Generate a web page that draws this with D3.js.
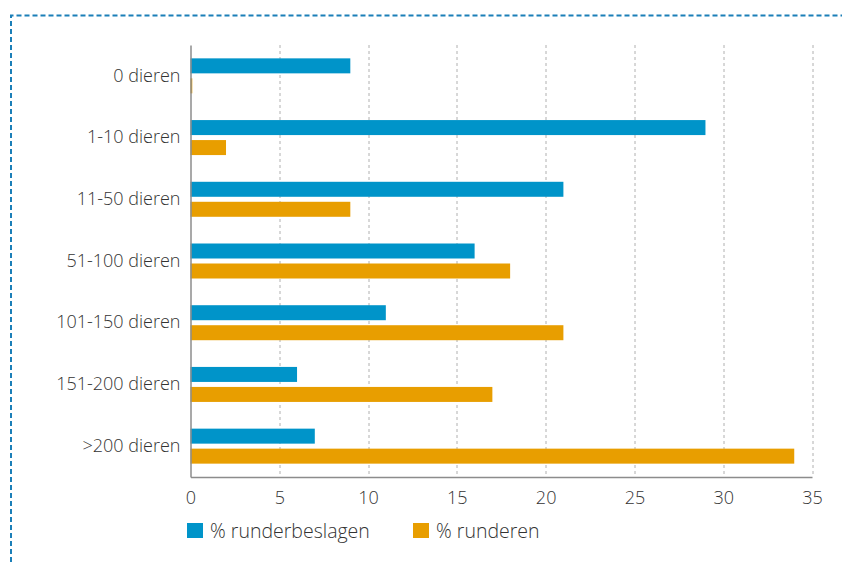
<!DOCTYPE html>
<html>
<head>
<meta charset="utf-8">
<script src="https://cdn.jsdelivr.net/npm/d3@7"></script>
<style>
  body { margin: 0; background: #fff; }
  svg { font-family: "Open Sans", sans-serif; }
</style>
</head>
<body>
<div class="canvas"></div>
<script>
// data
const categories = ['0 dieren', '1-10 dieren', '11-50 dieren', '51-100 dieren', '101-150 dieren', '151-200 dieren', '>200 dieren'];
const beslagen = [9, 29, 21, 16, 11, 6, 7];
const runderen = [0.1, 2, 9, 18, 21, 17, 34];
const seriesNames = ['% runderbeslagen', '% runderen'];
const colors = ['#0094c9', '#e89e00'];
const xTicks = [0, 5, 10, 15, 20, 25, 30, 35];

const width = 842, height = 562;
const margin = {top: 45, right: 30, bottom: 85, left: 190.5};
const graphWidth = 812 - margin.left;
const graphHeight = 477 - margin.top;
const fontSize = 18;
const textColor = '#333';

const svg = d3.select('.canvas').append('svg')
    .attr('width', width)
    .attr('height', height);

// dashed frame
svg.append('path')
    .attr('d', 'M11,562 L11,15.5 L842,15.5')
    .attr('fill', 'none')
    .attr('stroke', '#1b7fb8')
    .attr('stroke-width', 2)
    .attr('stroke-dasharray', '5,3');

const graph = svg.append('g')
    .attr('transform', `translate(${margin.left}, ${margin.top})`);

// scales
const x = d3.scaleLinear().domain([0, 35]).range([0, graphWidth]);
const y = d3.scaleBand().domain(categories).range([0, graphHeight]);

// gridlines
graph.append('g').selectAll('line')
    .data(xTicks.slice(1))
    .join('line')
    .attr('x1', d => Math.round(x(d)) + 0.5)
    .attr('x2', d => Math.round(x(d)) + 0.5)
    .attr('y1', 0)
    .attr('y2', graphHeight)
    .attr('stroke', '#b0b0b0')
    .attr('stroke-dasharray', '3,3');

// bars
const barH = 15, gap = 5;
const rows = graph.append('g').selectAll('g')
    .data(categories)
    .join('g')
    .attr('transform', d => `translate(0, ${y(d) + y.bandwidth() / 2 - barH - gap / 2})`);

rows.append('rect')
    .attr('x', 0)
    .attr('y', 0)
    .attr('height', barH)
    .attr('width', (d, i) => x(beslagen[i]))
    .attr('fill', colors[0]);

rows.append('rect')
    .attr('x', 0)
    .attr('y', barH + gap)
    .attr('height', barH)
    .attr('width', (d, i) => x(runderen[i]))
    .attr('fill', colors[1]);

// axes
const xAxis = d3.axisBottom(x).tickValues(xTicks).tickSize(0).tickPadding(14);
const xAxisGroup = graph.append('g')
    .attr('transform', `translate(0, ${graphHeight})`)
    .call(xAxis)
    .attr('font-size', fontSize)
    .attr('font-family', '"Open Sans", sans-serif')
    .attr('font-weight', 300);
xAxisGroup.select('.domain').attr('stroke', '#8c8c8c').attr('stroke-width', 1.5);
xAxisGroup.selectAll('text').attr('fill', textColor);

const yAxis = d3.axisLeft(y).tickSize(0).tickPadding(10);
const yAxisGroup = graph.append('g').call(yAxis)
    .attr('font-size', fontSize)
    .attr('font-family', '"Open Sans", sans-serif')
    .attr('font-weight', 300);
yAxisGroup.select('.domain').attr('stroke', '#8c8c8c').attr('stroke-width', 1.5);
yAxisGroup.selectAll('text').attr('fill', textColor);

// legend
const legendX = [187, 413];
const legend = svg.append('g').selectAll('g')
    .data(seriesNames)
    .join('g')
    .attr('transform', (d, i) => `translate(${legendX[i]}, 523)`);
legend.append('rect')
    .attr('width', 16).attr('height', 15)
    .attr('fill', (d, i) => colors[i]);
legend.append('text')
    .attr('x', 23).attr('y', 14.5)
    .attr('font-size', 19.5)
    .attr('font-weight', 300)
    .attr('fill', textColor)
    .text(d => d);
</script>
</body>
</html>
